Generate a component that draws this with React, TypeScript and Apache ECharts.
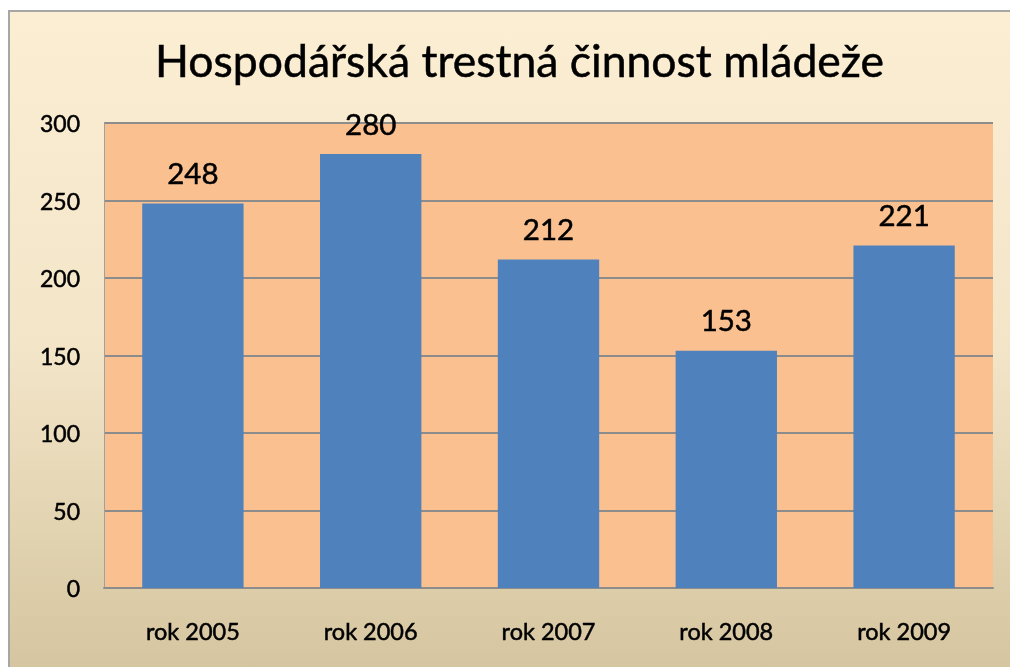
import React, { useEffect, useRef } from "react";
import * as echarts from "echarts";

const titleText = "Hospodářská trestná činnost mládeže";
const categories = ["rok 2005", "rok 2006", "rok 2007", "rok 2008", "rok 2009"];
const values = [248, 280, 212, 153, 221];
const yTicks = { min: 0, max: 300, interval: 50 };

export default function App() {
  const ref = useRef<HTMLDivElement>(null);
  useEffect(() => {
    if (!ref.current) return;
    const chart = echarts.init(ref.current, undefined, { renderer: "svg" });
    const font = "Lato, 'Open Sans', sans-serif";
    const thick = { textBorderColor: "#000", textBorderWidth: 0.5 };
    chart.setOption({
      animation: false,
      textStyle: { fontFamily: font },
      graphic: [
        {
          type: "rect",
          z: -10,
          silent: true,
          shape: { x: 9, y: 11, width: 1010, height: 670 },
          style: {
            fill: new echarts.graphic.LinearGradient(0, 0, 0, 1, [
              { offset: 0, color: "#FCEED3" },
              { offset: 0.5, color: "#F3E5C8" },
              { offset: 1, color: "#D4C49E" },
            ]),
            stroke: "#A6A6A6",
            lineWidth: 2,
          },
        },
      ],
      title: {
        text: titleText,
        left: 150,
        top: 32,
        textStyle: { fontFamily: font, fontSize: 44.5, fontWeight: "normal", color: "#000", ...thick },
      },
      grid: {
        left: 104,
        right: 17,
        top: 123,
        bottom: 79,
        show: true,
        backgroundColor: "#FAC090",
        borderWidth: 0,
      },
      xAxis: {
        type: "category",
        data: categories,
        axisLine: { show: true, lineStyle: { color: "#8C8C8C", width: 2 } },
        axisTick: { show: false },
        axisLabel: { color: "#000", fontSize: 23.5, margin: 31, fontFamily: font, ...thick },
      },
      yAxis: {
        type: "value",
        min: yTicks.min,
        max: yTicks.max,
        interval: yTicks.interval,
        axisLine: { show: true, lineStyle: { color: "#A0A0A0", width: 1 } },
        axisTick: { show: false },
        axisLabel: { color: "#000", fontSize: 23, margin: 24, fontFamily: font, ...thick },
        splitLine: { show: true, lineStyle: { color: "#8C8C8C", width: 2 } },
      },
      series: [
        {
          type: "bar",
          data: values,
          barWidth: "57%",
          itemStyle: { color: "#4F81BD" },
          label: {
            show: true,
            position: "top",
            distance: 16,
            color: "#000",
            fontSize: 29.5,
            fontFamily: font,
            ...thick,
          },
        },
      ],
    });
    return () => chart.dispose();
  }, []);
  return <div ref={ref} style={{ position: "fixed", left: 0, top: 0, width: 1010, height: 667 }} />;
}
